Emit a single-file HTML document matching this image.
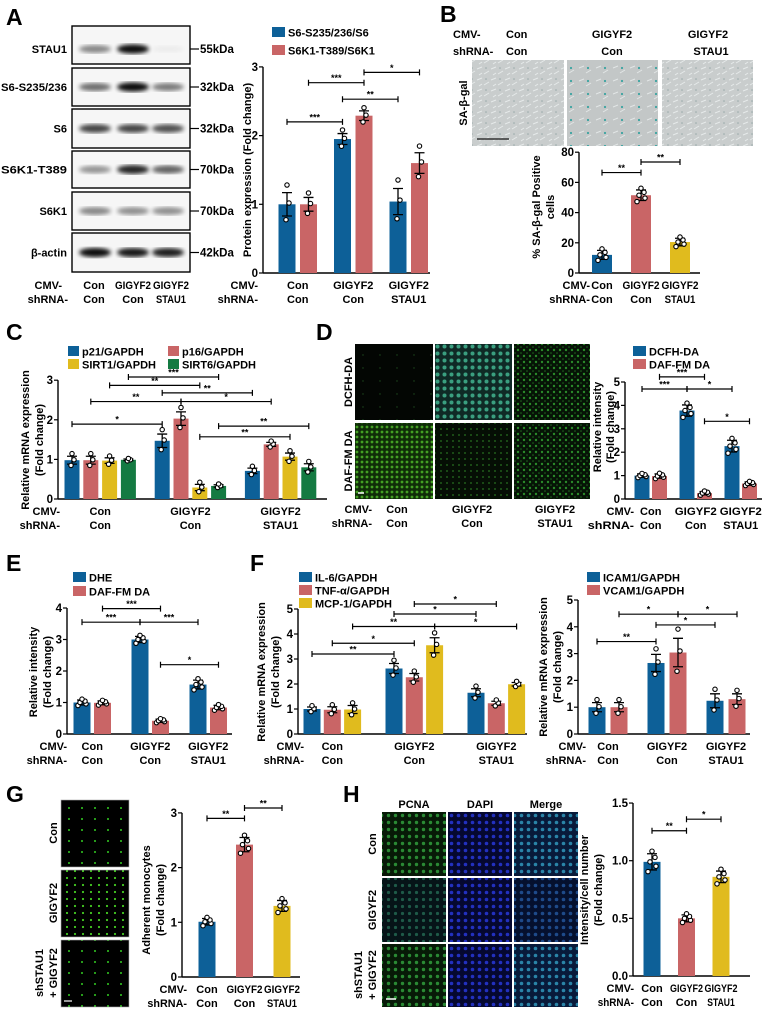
<!DOCTYPE html>
<html><head><meta charset="utf-8">
<style>
html,body{margin:0;padding:0;background:#fff;}
svg{display:block;font-family:"Liberation Sans",Arial,sans-serif;font-weight:bold;}
</style></head>
<body>
<svg id="fig" width="764" height="1010" viewBox="0 0 764 1010" xmlns="http://www.w3.org/2000/svg">
<defs>
<filter id="blur"><feGaussianBlur stdDeviation="2.2"/></filter>
<pattern id="pGal" width="14" height="11" patternUnits="userSpaceOnUse"><rect width="14" height="11" fill="#c9cdcd"/><path d="M1 3 L6 1 M8 8 L13 5 M3 9 L6 7" stroke="#e6eaea" stroke-width="1"/><circle cx="10" cy="2" r="0.8" fill="#9aa"/></pattern>
<pattern id="pGalB" width="17" height="13" patternUnits="userSpaceOnUse"><rect width="17" height="13" fill="#c3c7c7"/><path d="M1 3 L6 1 M8 8 L13 5" stroke="#e2e6e6" stroke-width="1"/><circle cx="10" cy="3" r="1.1" fill="#3aa3a0"/></pattern>
<pattern id="pDark" width="17" height="13" patternUnits="userSpaceOnUse"><rect width="17" height="13" fill="#030603"/><circle cx="6" cy="4" r="0.7" fill="#1d4a1d"/></pattern>
<pattern id="pCyan" width="7" height="7" patternUnits="userSpaceOnUse"><rect width="7" height="7" fill="#0f2a26"/><circle cx="3.5" cy="3.5" r="2" fill="#3a9f80"/></pattern>
<pattern id="pGreen" width="6" height="6" patternUnits="userSpaceOnUse"><rect width="6" height="6" fill="#061306"/><circle cx="2" cy="2" r="1.2" fill="#2a8a2a"/><circle cx="5" cy="5" r="0.8" fill="#1e6a1e"/></pattern>
<pattern id="pGreenB" width="5" height="5" patternUnits="userSpaceOnUse"><rect width="5" height="5" fill="#102e08"/><circle cx="2" cy="2" r="1.4" fill="#44a024"/></pattern>
<pattern id="pGreenD" width="6" height="6" patternUnits="userSpaceOnUse"><rect width="6" height="6" fill="#050e05"/><circle cx="3" cy="3" r="1" fill="#1f5a1a"/></pattern>
<pattern id="pMono" width="13" height="11" patternUnits="userSpaceOnUse"><rect width="13" height="11" fill="#000"/><circle cx="4" cy="5" r="1" fill="#33cc22"/></pattern>
<pattern id="pMono2" width="8" height="7" patternUnits="userSpaceOnUse"><rect width="8" height="7" fill="#000"/><circle cx="3" cy="3" r="1.1" fill="#44cc22"/></pattern>
<pattern id="pPcna" width="7" height="7" patternUnits="userSpaceOnUse"><rect width="7" height="7" fill="#071a07"/><circle cx="3.5" cy="3.5" r="1.7" fill="#2a8a34"/></pattern>
<pattern id="pPcnaD" width="7" height="7" patternUnits="userSpaceOnUse"><rect width="7" height="7" fill="#061418"/><circle cx="3.5" cy="3.5" r="1.6" fill="#1e5a48"/></pattern>
<pattern id="pDapi" width="7" height="7" patternUnits="userSpaceOnUse"><rect width="7" height="7" fill="#050830"/><circle cx="3.5" cy="3.5" r="1.8" fill="#2230c0"/></pattern>
<pattern id="pMerge" width="7" height="7" patternUnits="userSpaceOnUse"><rect width="7" height="7" fill="#081a3a"/><circle cx="3.5" cy="3.5" r="1.8" fill="#2a84a8"/></pattern>
<pattern id="pMergeD" width="7" height="7" patternUnits="userSpaceOnUse"><rect width="7" height="7" fill="#05102e"/><circle cx="3.5" cy="3.5" r="1.8" fill="#1e4a8a"/></pattern>
</defs>

<!-- panel letters -->
<g font-size="23" fill="#000">
<text x="6" y="25">A</text>
<text x="440" y="22">B</text>
<text x="6" y="340">C</text>
<text x="316" y="340">D</text>
<text x="6" y="571">E</text>
<text x="250" y="571">F</text>
<text x="6" y="802">G</text>
<text x="343" y="802">H</text>
</g>

<g id="wb"></g>

<!-- B images -->
<g font-size="11">
<text x="453" y="38">CMV-</text>
<text x="453" y="55">shRNA-</text>
<text x="506" y="38">Con</text>
<text x="506" y="55">Con</text>
<text x="612" y="38" text-anchor="middle">GIGYF2</text>
<text x="612" y="55" text-anchor="middle">Con</text>
<text x="708" y="38" text-anchor="middle">GIGYF2</text>
<text x="711" y="55" text-anchor="middle">STAU1</text>
<rect x="472" y="60" width="92" height="86" fill="url(#pGal)"/>
<rect x="567" y="60" width="91" height="86" fill="url(#pGalB)"/>
<rect x="662" y="60" width="91" height="86" fill="url(#pGal)"/>
<line x1="477" y1="139" x2="509" y2="139" stroke="#333" stroke-width="1.5"/>
<text transform="translate(467,103) rotate(-90)" text-anchor="middle">SA-β-gal</text>
</g>

<!-- D images -->
<g font-size="11">
<rect x="355" y="344" width="78" height="76" fill="url(#pDark)"/>
<rect x="435" y="344" width="77" height="76" fill="url(#pCyan)"/>
<rect x="514" y="344" width="76" height="76" fill="url(#pGreen)"/>
<rect x="355" y="423" width="78" height="76" fill="url(#pGreenB)"/>
<rect x="435" y="423" width="77" height="76" fill="url(#pGreenD)"/>
<rect x="514" y="423" width="76" height="76" fill="url(#pGreen)"/>
<line x1="358" y1="493" x2="364" y2="493" stroke="#fff" stroke-width="1.5"/>
<text transform="translate(352,382) rotate(-90)" text-anchor="middle">DCFH-DA</text>
<text transform="translate(352,461) rotate(-90)" text-anchor="middle">DAF-FM DA</text>
<text x="372" y="513" text-anchor="end">CMV-</text>
<text x="372" y="527" text-anchor="end">shRNA-</text>
<text x="397" y="513" text-anchor="middle">Con</text><text x="397" y="527" text-anchor="middle">Con</text>
<text x="472" y="513" text-anchor="middle">GIGYF2</text><text x="472" y="527" text-anchor="middle">Con</text>
<text x="555" y="513" text-anchor="middle">GIGYF2</text><text x="555" y="527" text-anchor="middle">STAU1</text>
</g>

<!-- G images -->
<g font-size="11">
<rect x="61" y="800" width="68" height="67" fill="url(#pMono)" stroke="#aaa" stroke-width="0.6"/>
<rect x="61" y="870" width="68" height="67" fill="url(#pMono2)" stroke="#aaa" stroke-width="0.6"/>
<rect x="61" y="940" width="68" height="67" fill="url(#pMono)" stroke="#aaa" stroke-width="0.6"/>
<line x1="64" y1="1001" x2="72" y2="1001" stroke="#ccc" stroke-width="1.5"/>
<text transform="translate(57,833) rotate(-90)" text-anchor="middle">Con</text>
<text transform="translate(57,903) rotate(-90)" text-anchor="middle">GIGYF2</text>
<text transform="translate(43,973) rotate(-90)" text-anchor="middle">shSTAU1</text>
<text transform="translate(57,973) rotate(-90)" text-anchor="middle">+ GIGYF2</text>
</g>

<!-- H images -->
<g font-size="11">
<text x="414" y="808" text-anchor="middle">PCNA</text>
<text x="480" y="808" text-anchor="middle">DAPI</text>
<text x="546" y="808" text-anchor="middle">Merge</text>
<rect x="382" y="812" width="64" height="64" fill="url(#pPcna)"/>
<rect x="448" y="812" width="64" height="64" fill="url(#pDapi)"/>
<rect x="514" y="812" width="64" height="64" fill="url(#pMerge)"/>
<rect x="382" y="878" width="64" height="64" fill="url(#pPcnaD)"/>
<rect x="448" y="878" width="64" height="64" fill="url(#pDapi)"/>
<rect x="514" y="878" width="64" height="64" fill="url(#pMergeD)"/>
<rect x="382" y="944" width="64" height="63" fill="url(#pPcna)"/>
<rect x="448" y="944" width="64" height="63" fill="url(#pDapi)"/>
<rect x="514" y="944" width="64" height="63" fill="url(#pMerge)"/>
<line x1="386" y1="999" x2="396" y2="999" stroke="#fff" stroke-width="1.5"/>
<text transform="translate(376,844) rotate(-90)" text-anchor="middle">Con</text>
<text transform="translate(376,910) rotate(-90)" text-anchor="middle">GIGYF2</text>
<text transform="translate(362,975) rotate(-90)" text-anchor="middle">shSTAU1</text>
<text transform="translate(376,975) rotate(-90)" text-anchor="middle">+ GIGYF2</text>
</g>

<!-- y-axis titles -->
<g font-size="11" text-anchor="middle">
<text transform="translate(251,170) rotate(-90)">Protein expression (Fold change)</text>
<text transform="translate(540,207) rotate(-90)">% SA-β-gal Positive</text>
<text transform="translate(554,207) rotate(-90)">cells</text>
<text transform="translate(29,440) rotate(-90)">Relative mRNA expression</text>
<text transform="translate(43,440) rotate(-90)">(Fold change)</text>
<text transform="translate(601,427) rotate(-90)">Relative intensity</text>
<text transform="translate(614,427) rotate(-90)">(Fold change)</text>
<text transform="translate(37,672) rotate(-90)">Relative intensity</text>
<text transform="translate(51,672) rotate(-90)">(Fold change)</text>
<text transform="translate(265,672) rotate(-90)">Relative  mRNA expression</text>
<text transform="translate(279,672) rotate(-90)">(Fold change)</text>
<text transform="translate(547,667) rotate(-90)">Relative mRNA expression</text>
<text transform="translate(561,667) rotate(-90)">(Fold change)</text>
<text transform="translate(150,900) rotate(-90)">Adherent monocytes</text>
<text transform="translate(164,900) rotate(-90)">(Fold change)</text>
<text transform="translate(588,890) rotate(-90)">Intensity/cell  number</text>
<text transform="translate(602,890) rotate(-90)">(Fold change)</text>
</g>

<g id="charts"></g>
</svg>

<script>
// ---------------- DATA ----------------
const COLORS = ["#0d6098", "#c96566", "#e0bb1e", "#147a42"];
const groupCmv = ["Con", "GIGYF2", "GIGYF2"];
const groupSh = ["Con", "Con", "STAU1"];

// A
const aSeries = ["S6-S235/236/S6", "S6K1-T389/S6K1"];
const aVals = [[1.0, 1.95, 1.04], [1.0, 2.29, 1.6]];
const aErr = [[0.17, 0.08, 0.19], [0.1, 0.07, 0.15]];
const aTicks = [0, 1, 2, 3];
const aSig = [[1, 1, 2, 1, 2.92, "*"], [0, 1, 1, 1, 2.77, "***"], [1, 0, 2, 0, 2.53, "**"], [0, 0, 1, 0, 2.2, "***"]];
// B
const bVals = [[12, 51.5, 20.5]];
const bErr = [[3, 3.5, 2.5]];
const bTicks = [0, 20, 40, 60, 80];
const bSig = [[0, 0, 1, 0, 66.5, "**"], [1, 0, 2, 0, 73.5, "**"]];
// C
const cSeries = ["p21/GAPDH", "p16/GAPDH", "SIRT1/GAPDH", "SIRT6/GAPDH"];
const cVals = [[0.98, 1.47, 0.71], [0.98, 2.03, 1.38], [0.97, 0.29, 1.07], [0.99, 0.33, 0.8]];
const cErr = [[0.1, 0.17, 0.07], [0.1, 0.17, 0.05], [0.07, 0.08, 0.09], [0.02, 0.03, 0.09]];
const cTicks = [0, 1, 2, 3];
const cSig = [[0, 3, 1, 3, 3.08, "***"], [0, 2, 1, 2, 2.87, "**"], [1, 0, 2, 0, 2.68, "**"], [0, 1, 1, 1, 2.46, "**"], [1, 1, 2, 1, 2.46, "*"], [0, 0, 1, 0, 1.89, "*"], [1, 3, 2, 3, 1.84, "**"], [1, 2, 2, 2, 1.57, "**"]];
// D
const dSeries = ["DCFH-DA", "DAF-FM DA"];
const dVals = [[1.0, 3.78, 2.26], [0.98, 0.25, 0.66]];
const dErr = [[0.07, 0.24, 0.25], [0.09, 0.07, 0.07]];
const dTicks = [0, 1, 2, 3, 4, 5];
const dSig = [[0, 1, 1, 1, 5.22, "***"], [0, 0, 1, 0, 4.7, "***"], [1, 0, 2, 0, 4.7, "*"], [1, 1, 2, 1, 3.32, "*"]];
// E
const eSeries = ["DHE", "DAF-FM DA"];
const eVals = [[1.0, 3.0, 1.57], [0.99, 0.42, 0.84]];
const eErr = [[0.08, 0.1, 0.14], [0.06, 0.05, 0.07]];
const eTicks = [0, 1, 2, 3, 4];
const eSig = [[0, 1, 1, 1, 3.98, "***"], [0, 0, 1, 0, 3.55, "***"], [1, 0, 2, 0, 3.55, "***"], [1, 1, 2, 1, 2.2, "*"]];
// F1
const f1Series = ["IL-6/GAPDH", "TNF-α/GAPDH", "MCP-1/GAPDH"];
const f1Vals = [[1.0, 2.62, 1.65], [0.97, 2.27, 1.23], [0.98, 3.55, 1.99]];
const f1Err = [[0.08, 0.2, 0.16], [0.12, 0.15, 0.08], [0.16, 0.3, 0.07]];
const f1Ticks = [0, 1, 2, 3, 4, 5];
const f1Sig = [[1, 1, 2, 1, 5.2, "*"], [1, 0, 2, 0, 4.8, "*"], [0, 2, 1, 2, 4.3, "**"], [1, 2, 2, 2, 4.3, "*"], [0, 1, 1, 1, 3.63, "*"], [0, 0, 1, 0, 3.2, "**"]];
// F2
const f2Series = ["ICAM1/GAPDH", "VCAM1/GAPDH"];
const f2Vals = [[1.0, 2.65, 1.24], [1.0, 3.04, 1.3]];
const f2Err = [[0.17, 0.32, 0.26], [0.17, 0.53, 0.2]];
const f2Ticks = [0, 1, 2, 3, 4, 5];
const f2Sig = [[0, 1, 1, 1, 4.47, "*"], [1, 1, 2, 1, 4.47, "*"], [1, 0, 2, 0, 4.07, "*"], [0, 0, 1, 0, 3.45, "**"]];
// G
const gVals = [[1.01, 2.42, 1.3]];
const gErr = [[0.06, 0.13, 0.1]];
const gTicks = [0, 1, 2, 3];
const gSig = [[0, 0, 1, 0, 2.9, "**"], [1, 0, 2, 0, 3.09, "**"]];
// H
const hVals = [[0.99, 0.5, 0.86]];
const hErr = [[0.07, 0.03, 0.05]];
const hTicks = [0, 0.5, 1.0, 1.5];
const hSig = [[0, 0, 1, 0, 1.26, "**"], [1, 0, 2, 0, 1.36, "*"]];

// ---------------- DRAW ----------------
const NS = "http://www.w3.org/2000/svg";
const root = document.getElementById("charts");
function mk(tag, attrs, parent) {
  const el = document.createElementNS(NS, tag);
  for (const k in attrs) el.setAttribute(k, attrs[k]);
  (parent || root).appendChild(el);
  return el;
}
function txt(x, y, s, anchor, size, parent, maxW) {
  const t = mk("text", {x: x, y: y, "text-anchor": anchor || "start", "font-size": size || 11}, parent);
  t.textContent = s;
  if (maxW && s.length >= 5) {
    t.setAttribute("textLength", maxW * s.length / 6);
    t.setAttribute("lengthAdjust", "spacingAndGlyphs");
  }
  return t;
}

function chart(L, vals, errs, ticks, sig, colorIdx, nDots, decimals) {
  const g = mk("g", {});
  
  
  const yS = v => L.y0 - v * L.ppu;
  const xS = (gi, si) => L.start + gi * L.gstep + si * L.bstep;
  const top = ticks[ticks.length - 1];
  const ya = mk("line", {x1: L.ax, y1: L.y0, x2: L.ax, y2: yS(top), stroke: "#000", "stroke-width": 1.4}, g);
  
  
  const xa = mk("line", {x1: L.ax, y1: L.y0, x2: L.xEnd, y2: L.y0, stroke: "#000", "stroke-width": 1.4}, g);
  
  
  ticks.forEach(t => {
    mk("line", {x1: L.ax - 4, y1: yS(t), x2: L.ax, y2: yS(t), stroke: "#000", "stroke-width": 1.2}, g);
    const tl = txt(L.ax - 5, yS(t) + 4, decimals ? t.toFixed(1) : String(t), "end", 11.5, g);
    
    
  });
  const nG = vals[0].length;
  vals.forEach((ser, si) => {
    ser.forEach((v, gi) => {
      const cx = xS(gi, si);
      const col = COLORS[colorIdx ? colorIdx[gi] : si];
      const b = mk("rect", {x: cx - L.bw / 2, y: yS(v), width: L.bw, height: L.y0 - yS(v), fill: col}, g);
      
      
      const e = errs[si][gi];
      const eb = mk("path", {d: `M${cx} ${yS(v - e)} V${yS(v + e)} M${cx - 5} ${yS(v + e)} H${cx + 5} M${cx - 5} ${yS(v - e)} H${cx + 5}`, stroke: "#000", "stroke-width": 1.3, fill: "none"}, g);
      
      
      const ks = nDots === 5 ? [-1.1, -0.5, 0, 0.5, 1.2] : [-1.2, 0.1, 1.5];
      const jx = nDots === 5 ? [-4, 4, -2, 3, 0] : [-1, 2, 0];
      ks.forEach((k, i) => {
        const d = mk("circle", {cx: cx + jx[i], cy: yS(v + k * e * 1.1), r: 2.2, fill: "#fff", stroke: "#000", "stroke-width": 1.1}, g);
        
        
      });
    });
  });
  for (let gi = 0; gi < nG; gi++) {
    let c = 0;
    for (let si = 0; si < vals.length; si++) c += xS(gi, si);
    c /= vals.length;
    const l1 = txt(c, L.y0 + 16, groupCmv[gi], "middle", 11, g, L.catW);
    
    
    const l2 = txt(c, L.y0 + 30, groupSh[gi], "middle", 11, g, L.catW);
    
    
  }
  const c1 = txt(L.lab, L.y0 + 16, "CMV-", "end", 11, g);
  
  
  const c2 = txt(L.lab, L.y0 + 30, "shRNA-", "end", 11, g, L.catW ? L.catW * 1.1 : 0);
  
  
  sig.forEach(s => {
    const x1 = xS(s[0], s[1]), x2 = xS(s[2], s[3]), y = yS(s[4]);
    const br = mk("path", {d: `M${x1} ${y - 3} V${y + 3} M${x1} ${y} H${x2} M${x2} ${y - 3} V${y + 3}`, stroke: "#000", "stroke-width": 1.2, fill: "none"}, g);
    
    
    const st = txt((x1 + x2) / 2, y - 1.5, s[5], "middle", 9, g);
    
    
  });
}

function legend(x, ys, names, colorIdx, w) {
  names.forEach((n, i) => {
    const r = mk("rect", {x: x, y: ys[i] - 5, width: w || 13, height: 10, fill: COLORS[colorIdx ? colorIdx[i] : i]});
    
    
    const t = txt(x + (w || 13) + 3, ys[i] + 4.5, n, "start", 11);
    
    
  });
}

chart({name: "chart-a", ax: 263, y0: 273, ppu: 68.7, xEnd: 430, start: 287, gstep: 55.5, bstep: 21.5, bw: 17, lab: 258}, aVals, aErr, aTicks, aSig, null, 3);
legend(272, [32, 50], aSeries);
chart({name: "chart-b", ax: 579, y0: 273, ppu: 1.51, xEnd: 700, start: 602, gstep: 39, bstep: 0, bw: 20, lab: 590, catW: 37}, bVals, bErr, bTicks, bSig, [0, 1, 2], 5);
chart({name: "chart-c", ax: 58, y0: 499, ppu: 39.6, xEnd: 327, start: 72, gstep: 90.2, bstep: 18.8, bw: 15, lab: 60}, cVals, cErr, cTicks, cSig, null, 3);
legend(68, [351, 364], [cSeries[0], cSeries[2]], [0, 2], 11);
legend(168, [351, 364], [cSeries[1], cSeries[3]], [1, 3], 11);
chart({name: "chart-d", ax: 625, y0: 499, ppu: 23.4, xEnd: 762, start: 642, gstep: 45, bstep: 17.5, bw: 15, lab: 634, catW: 42}, dVals, dErr, dTicks, dSig, null, 5);
legend(633, [351, 364], dSeries);
chart({name: "chart-e", ax: 67, y0: 734, ppu: 31.5, xEnd: 232, start: 82, gstep: 58, bstep: 20.5, bw: 17, lab: 67}, eVals, eErr, eTicks, eSig, null, 5);
legend(73, [577, 591], eSeries);
chart({name: "chart-f-cytokines", ax: 298, y0: 734, ppu: 25, xEnd: 527, start: 312, gstep: 82, bstep: 20.3, bw: 17, lab: 304}, f1Vals, f1Err, f1Ticks, f1Sig, null, 3);
legend(299, [577, 590, 603], f1Series);
chart({name: "chart-f-adhesion", ax: 578, y0: 734, ppu: 26.8, xEnd: 750, start: 597, gstep: 59, bstep: 22, bw: 17, lab: 586}, f2Vals, f2Err, f2Ticks, f2Sig, null, 3);
legend(587, [577, 590], f2Series);
chart({name: "chart-g", ax: 182, y0: 977, ppu: 54.7, xEnd: 300, start: 207, gstep: 37.5, bstep: 0, bw: 17, lab: 187, catW: 36}, gVals, gErr, gTicks, gSig, [0, 1, 2], 5);
chart({name: "chart-h", ax: 633, y0: 976, ppu: 115.3, xEnd: 750, start: 652, gstep: 34.5, bstep: 0, bw: 17, lab: 634, catW: 33}, hVals, hErr, hTicks, hSig, [0, 1, 2], 5, true);

// ---------------- Western blot ----------------
const wbRows = ["STAU1", "S6-S235/236", "S6", "S6K1-T389", "S6K1", "β-actin"];
const wbKda = ["55kDa", "32kDa", "32kDa", "70kDa", "70kDa", "42kDa"];
const wbIntensity = [[0.45, 0.95, 0.04], [0.55, 0.95, 0.5], [0.72, 0.72, 0.68], [0.4, 0.85, 0.6], [0.45, 0.42, 0.42], [0.95, 0.9, 0.88]];
const wb = document.getElementById("wb");
const rowTop = [26, 68, 109, 151, 192, 233], rowBot = [64, 106, 148, 188, 230, 272];
const laneX = [95, 133, 168];
wbRows.forEach((name, r) => {
  const box = mk("rect", {x: 72, y: rowTop[r], width: 118, height: rowBot[r] - rowTop[r], fill: "#f6f6f6", stroke: "#000", "stroke-width": 1.4}, wb);
  
  
  const cy = (rowTop[r] + rowBot[r]) / 2 + (r === 0 ? 4 : 0);
  wbIntensity[r].forEach((v, l) => {
    const band = mk("ellipse", {cx: laneX[l], cy: cy, rx: 16, ry: 3.2 + v * 1.5, fill: "#000", opacity: v, filter: "url(#blur)"}, wb);
    
    
  });
  const lab = txt(67, cy + 4, name, "end", 11, wb);
  if (name.length > 8) { lab.setAttribute("textLength", 66); lab.setAttribute("lengthAdjust", "spacingAndGlyphs"); }
  
  
  mk("line", {x1: 190, y1: cy, x2: 199, y2: cy, stroke: "#000", "stroke-width": 1.2}, wb);
  const k = txt(200, cy + 4, wbKda[r], "start", 11.5, wb);
  
  
});
const wl = [["CMV-", 62, 289, "end"], ["shRNA-", 68, 303, "end"], ["Con", 94, 289, "middle"], ["Con", 94, 303, "middle"], ["GIGYF2", 133, 289, "middle"], ["Con", 133, 303, "middle"], ["GIGYF2", 171, 289, "middle"], ["STAU1", 171, 303, "middle"]];
wl.forEach(a => {
  const t = txt(a[1], a[2], a[0], a[3], 11, wb, a[0].startsWith("G") || a[0] === "STAU1" ? 36 : 0);
  
  
});
</script>
</body></html>
